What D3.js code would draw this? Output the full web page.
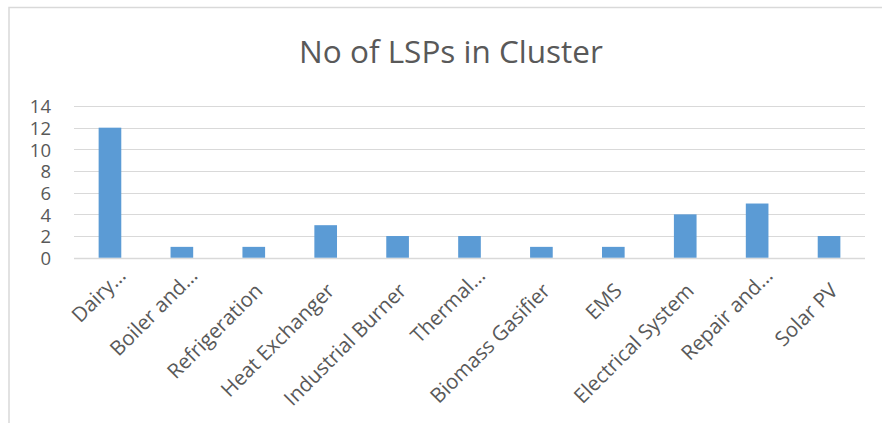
<!DOCTYPE html>
<html>
<head>
<meta charset="utf-8">
<script src="https://cdn.jsdelivr.net/npm/d3@7"></script>
<style>
  body { margin: 0; background: #fff; }
  svg { display: block; }
  text { font-family: "Open Sans", Lato, sans-serif; fill: #595959; }
</style>
</head>
<body>
<svg width="882" height="423"></svg>
<script>
const categories = [
  "Dairy…",
  "Boiler and…",
  "Refrigeration",
  "Heat Exchanger",
  "Industrial Burner",
  "Thermal…",
  "Biomass Gasifier",
  "EMS",
  "Electrical System",
  "Repair and…",
  "Solar PV",
];
const values = [12, 1, 1, 3, 2, 2, 1, 1, 4, 5, 2];
const yTicks = [0, 2, 4, 6, 8, 10, 12, 14];
const title = "No of LSPs in Cluster";

const svg = d3.select("svg");

// chart area border, only top and left edges show
svg
  .append("path")
  .attr("d", "M 9 423 L 9 7.5 L 882 7.5")
  .attr("fill", "none")
  .attr("stroke", "#d9d9d9")
  .attr("stroke-width", 1.5);

svg
  .append("text")
  .attr("x", 451)
  .attr("y", 63)
  .attr("text-anchor", "middle")
  .attr("font-size", 31.5)
  .text(title);

const x = d3.scaleBand().domain(categories).range([74, 865]).paddingInner(0.685).paddingOuter(0.3425);
const y = d3.scaleLinear().domain([0, 14]).range([257.7, 106]);

const grid = svg.append("g").attr("id", "grid");
grid
  .selectAll("line")
  .data(yTicks)
  .enter()
  .append("line")
  .attr("x1", 74)
  .attr("x2", 865)
  .attr("y1", (d) => Math.round(y(d)) + 0.5)
  .attr("y2", (d) => Math.round(y(d)) + 0.5)
  .attr("stroke", "#d9d9d9")
  .attr("stroke-width", (d) => (d === 0 ? 1.5 : 1.2));

const yAxis = svg
  .append("g")
  .attr("transform", "translate(51,0)")
  .call(d3.axisLeft(y).tickValues(yTicks).tickSize(0).tickPadding(0));
yAxis.select(".domain").remove();
yAxis
  .selectAll("text")
  .attr("font-size", 18.5)
  .attr("font-family", "'Open Sans', Lato, sans-serif")
  .attr("fill", "#595959")
  .attr("dy", "0.36em");

svg
  .append("g")
  .attr("id", "bars")
  .selectAll("rect")
  .data(values)
  .enter()
  .append("rect")
  .attr("x", (d, i) => x(categories[i]))
  .attr("y", (d) => y(d))
  .attr("width", x.bandwidth())
  .attr("height", (d) => y(0) - y(d))
  .attr("fill", "#5b9bd5");

const xAxis = svg
  .append("g")
  .attr("transform", "translate(0,258)")
  .call(d3.axisBottom(x).tickSize(0).tickPadding(0));
xAxis.select(".domain").remove();
// truncated labels (ending in …) sit a bit higher, like Excel does
xAxis
  .selectAll("text")
  .attr("font-size", 20.5)
  .attr("font-family", "'Open Sans', Lato, sans-serif")
  .attr("fill", "#595959")
  .attr("text-anchor", "end")
  .attr("y", 0)
  .attr("dy", 0)
  .attr("transform", (d) =>
    d.endsWith("…") ? "translate(17,19) rotate(-45)" : "translate(10,34) rotate(-45)"
  );
</script>
</body>
</html>
